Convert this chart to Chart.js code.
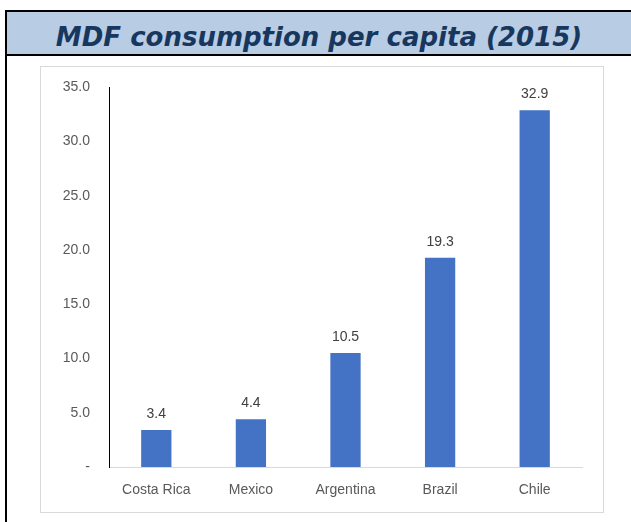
<!DOCTYPE html>
<html>
<head>
<meta charset="utf-8">
<script src="https://cdn.jsdelivr.net/npm/chart.js@4"></script>
<style>
  body { margin: 0; background: #fff; width: 631px; height: 522px; overflow: hidden; position: relative; }
  #frame { position: absolute; left: 5px; top: 10px; width: 640px; height: 540px; border-left: 2px solid #000; border-top: 2px solid #000; }
  #title { position: absolute; left: 7px; top: 12px; width: 630px; height: 44px; background: #b8cce4; border-bottom: 2px solid #000;
    font-family: "DejaVu Sans", Verdana, sans-serif; font-weight: bold; font-style: italic; font-size: 26px; color: #17375e;
    text-align: center; line-height: 50px; padding-right: 6px; box-sizing: border-box; }
  #box { position: absolute; left: 40px; top: 66px; width: 562px; height: 445px; border: 1px solid #d9d9d9; }
  #box canvas { position: absolute; left: 0; top: -7px; }
</style>
</head>
<body>
<div id="frame"></div>
<div id="title">MDF consumption per capita (2015)</div>
<div id="box"><canvas id="mdfChart" width="562" height="452"></canvas></div>
<script>
const countries = ["Costa Rica", "Mexico", "Argentina", "Brazil", "Chile"];
const consumption = [3.4, 4.4, 10.5, 19.3, 32.9];
const yTicks = [0, 5, 10, 15, 20, 25, 30, 35];

// value above each bar, like the Excel data labels
const valueLabels = {
  id: "valueLabels",
  afterDatasetsDraw(chart) {
    const ctx = chart.ctx;
    const meta = chart.getDatasetMeta(0);
    ctx.save();
    ctx.font = "14px 'Liberation Sans', Arial, sans-serif";
    ctx.fillStyle = "#404040";
    ctx.textAlign = "center";
    ctx.textBaseline = "bottom";
    meta.data.forEach((bar, i) => {
      ctx.fillText(consumption[i].toFixed(1), bar.x, bar.y - 9);
    });
    ctx.restore();
  }
};

const ctx = document.getElementById("mdfChart").getContext("2d");
new Chart(ctx, {
  type: "bar",
  data: {
    labels: countries,
    datasets: [
      {
        data: consumption,
        backgroundColor: "#4472c4",
        barPercentage: 0.64,
        categoryPercentage: 0.5,
      },
    ],
  },
  options: {
    responsive: false,
    animation: false,
    layout: { padding: { top: 12, right: 21, left: 0, bottom: 0 } },
    plugins: { legend: { display: false }, tooltip: { enabled: false } },
    scales: {
      x: {
        grid: { display: false, drawTicks: false },
        border: { color: "#d9d9d9", width: 1 },
        ticks: {
          color: "#595959",
          padding: 15,
          font: { family: "'Liberation Sans', Arial, sans-serif", size: 14 },
        },
        afterFit: (scale) => { scale.height = 45; },
      },
      y: {
        min: 0,
        max: 35,
        afterBuildTicks: (scale) => { scale.ticks = yTicks.map((v) => ({ value: v })); },
        grid: { display: false, drawTicks: false },
        border: { color: "#000", width: 1 },
        ticks: {
          color: "#595959",
          padding: 19,
          font: { family: "'Liberation Sans', Arial, sans-serif", size: 14 },
          callback: (v) => (v === 0 ? "-" : v.toFixed(1)),
        },
        afterFit: (scale) => { scale.width = 68; },
      },
    },
  },
  plugins: [valueLabels],
});
</script>
</body>
</html>
